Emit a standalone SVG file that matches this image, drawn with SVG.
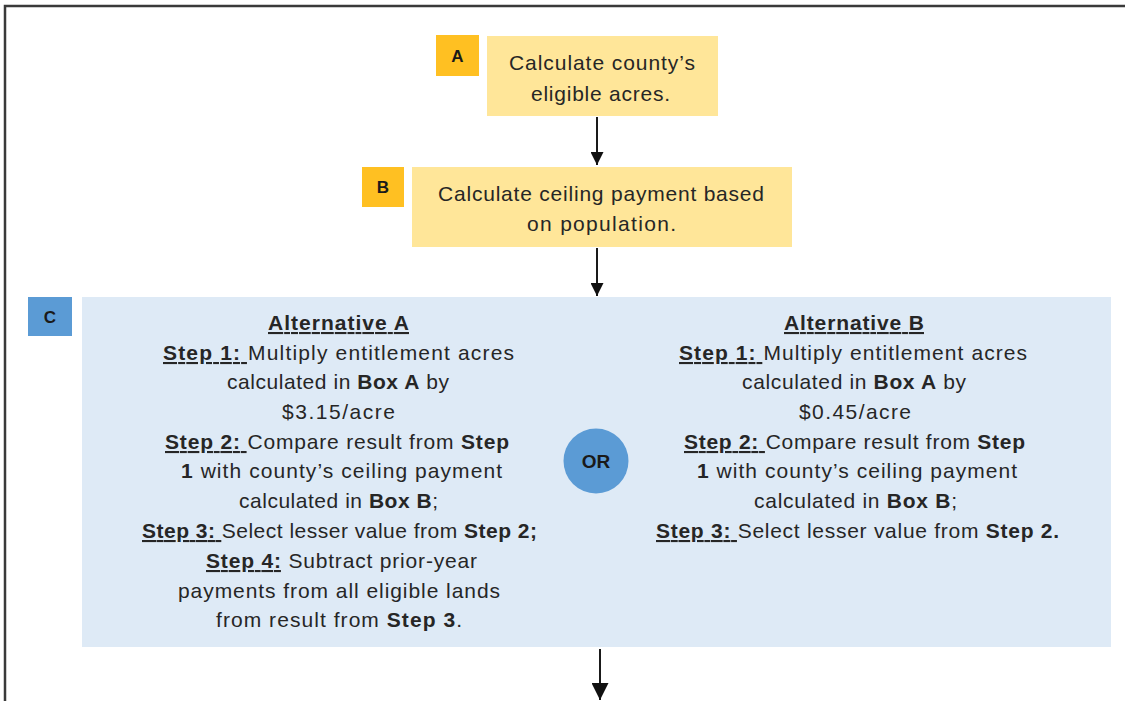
<svg xmlns="http://www.w3.org/2000/svg" width="1125" height="701" viewBox="0 0 1125 701">
<defs>
<style>
.t{font-family:"Liberation Sans",Arial,sans-serif;font-size:21px;fill:#262626}
.b{font-weight:bold}
.u{font-weight:bold;text-decoration:underline}
.lbl{font-family:"Liberation Sans",Arial,sans-serif;font-size:17px;font-weight:bold;fill:#1a1a1a;text-anchor:middle}
.yb{fill:#FFE699}
.yl{fill:#FFC022}
.bb{fill:#DEEAF6}
.bl{fill:#5B9BD5}
.conn{stroke:#1a1a1a;stroke-width:2;fill:none}
</style>
<marker id="ah" viewBox="0 0 10 10" refX="10" refY="5" markerWidth="13" markerHeight="13" markerUnits="userSpaceOnUse" orient="auto">
<path d="M0,0 L10,5 L0,10 z" fill="#111"/>
</marker>
<marker id="ah2" viewBox="0 0 10 10" refX="10" refY="5" markerWidth="17" markerHeight="17" markerUnits="userSpaceOnUse" orient="auto">
<path d="M0,0 L10,5 L0,10 z" fill="#111"/>
</marker>
</defs>
<rect x="0" y="0" width="1125" height="701" fill="#fff"/>
<g id="frame">
<path d="M5,701 V6 H1125" stroke="#3a3a3a" stroke-width="2.5" fill="none"/>
</g>
<g id="nodeA">
<rect class="yl" x="436" y="35" width="43" height="41"/>
<text class="lbl" x="457.5" y="62">A</text>
<rect class="yb" x="487" y="36" width="231" height="80"/>
<text class="t" x="509" y="70" textLength="186" lengthAdjust="spacing">Calculate county’s</text>
<text class="t" x="531" y="101" textLength="139" lengthAdjust="spacing">eligible acres.</text>
</g>
<g id="nodeB">
<rect class="yl" x="362" y="167" width="42" height="40"/>
<text class="lbl" x="383" y="193">B</text>
<rect class="yb" x="412" y="167" width="380" height="80"/>
<text class="t" x="438" y="201" textLength="326" lengthAdjust="spacing">Calculate ceiling payment based</text>
<text class="t" x="527" y="231" textLength="149" lengthAdjust="spacing">on population.</text>
</g>
<g id="nodeC">
<rect class="bl" x="28" y="297" width="44" height="39"/>
<text class="lbl" x="50" y="323">C</text>
<rect class="bb" x="82" y="297" width="1029" height="350"/>
<text class="t" x="268" y="330" textLength="141" lengthAdjust="spacing"><tspan class="u">Alternative A</tspan></text>
<text class="t" x="163" y="360" textLength="351" lengthAdjust="spacing"><tspan class="u">Step 1: </tspan>Multiply entitlement  acres</text>
<text class="t" x="227" y="389" textLength="222" lengthAdjust="spacing">calculated in <tspan class="b">Box A</tspan> by</text>
<text class="t" x="282" y="419" textLength="113" lengthAdjust="spacing">$3.15/acre</text>
<text class="t" x="165" y="449" textLength="344" lengthAdjust="spacing"><tspan class="u">Step 2: </tspan>Compare result from <tspan class="b">Step</tspan></text>
<text class="t" x="181" y="478" textLength="321" lengthAdjust="spacing"><tspan class="b">1</tspan> with county’s ceiling payment</text>
<text class="t" x="239" y="508" textLength="199" lengthAdjust="spacing">calculated in <tspan class="b">Box B</tspan>;</text>
<text class="t" x="142" y="538" textLength="395" lengthAdjust="spacing"><tspan class="u">Step 3: </tspan>Select lesser value from <tspan class="b">Step 2;</tspan></text>
<text class="t" x="206" y="568" textLength="271" lengthAdjust="spacing"><tspan class="u">Step 4:</tspan> Subtract prior-year</text>
<text class="t" x="178" y="598" textLength="322" lengthAdjust="spacing">payments from all eligible  lands</text>
<text class="t" x="216" y="627" textLength="246" lengthAdjust="spacing">from result from <tspan class="b">Step 3</tspan>.</text>
<text class="t" x="784" y="330" textLength="140" lengthAdjust="spacing"><tspan class="u">Alternative B</tspan></text>
<text class="t" x="679" y="360" textLength="348" lengthAdjust="spacing"><tspan class="u">Step 1: </tspan>Multiply entitlement  acres</text>
<text class="t" x="742" y="389" textLength="224" lengthAdjust="spacing">calculated in <tspan class="b">Box A</tspan> by</text>
<text class="t" x="799" y="419" textLength="112" lengthAdjust="spacing">$0.45/acre</text>
<text class="t" x="684" y="449" textLength="341" lengthAdjust="spacing"><tspan class="u">Step 2: </tspan>Compare result from <tspan class="b">Step</tspan></text>
<text class="t" x="697" y="478" textLength="320" lengthAdjust="spacing"><tspan class="b">1</tspan> with county’s ceiling payment</text>
<text class="t" x="754" y="508" textLength="203" lengthAdjust="spacing">calculated in <tspan class="b">Box B</tspan>;</text>
<text class="t" x="656" y="538" textLength="403" lengthAdjust="spacing"><tspan class="u">Step 3: </tspan>Select lesser value from <tspan class="b">Step 2.</tspan></text>
</g>
<g id="nodeOR">
<circle class="bl" cx="596" cy="461" r="32.5"/>
<text class="lbl" x="596" y="468" style="font-size:19px">OR</text>
</g>
<g id="connectors">
<line class="conn" x1="597" y1="117" x2="597" y2="165" marker-end="url(#ah)"/>
<line class="conn" x1="597" y1="248" x2="597" y2="296" marker-end="url(#ah)"/>
<line class="conn" x1="600" y1="649" x2="600" y2="700" marker-end="url(#ah2)"/>
</g>
</svg>
